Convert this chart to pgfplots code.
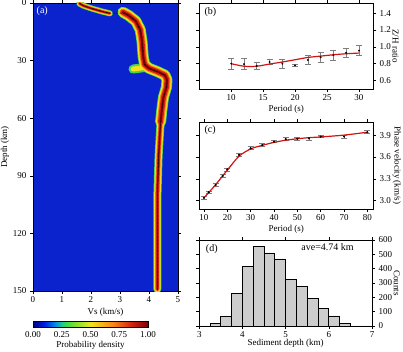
\documentclass[border=0pt]{standalone}
\usepackage{pgfplots}
\pgfplotsset{compat=1.18}
\usepackage{pgfplotstable}
\usepackage{fontspec}
\setmainfont{Liberation Serif}
\definecolor{bgblue}{RGB}{10,35,205}
\definecolor{cgreen}{RGB}{70,215,75}
\definecolor{cyellow}{RGB}{245,225,30}
\definecolor{corange}{RGB}{250,130,20}
\definecolor{cred}{RGB}{215,35,20}
\definecolor{cdred}{RGB}{135,0,0}
\definecolor{barfill}{RGB}{205,205,205}
\definecolor{errgray}{RGB}{125,125,125}
\definecolor{modred}{RGB}{210,20,20}

% Vs profile segments (Vs km/s, depth km)
\pgfplotstableread{
vs d
1.60 0.3
1.75 1.5
2.05 3.0
2.40 4.5
2.65 5.4
}\segA
\pgfplotstableread{
vs d
3.10 4.8
3.30 6.5
3.55 9.5
3.70 14
3.76 20
3.80 28
3.85 32
4.00 34
4.30 35.8
4.55 37.6
4.62 40
4.60 44
4.50 49
4.44 56
4.40 62
}\segB
\pgfplotstableread{
vs d
4.40 62
4.38 67
4.33 80
4.31 90
4.29 100
4.29 149
}\segC
\pgfplotstableread{
vs d
3.45 34.4
3.85 33.6
}\segD
\pgfplotstableread{
vs d
1.60 0
1.75 1.5
2.05 3
2.40 4.5
2.65 5.3
3.10 5.3
3.30 6.5
3.55 9.5
3.70 14
3.76 20
3.80 28
3.85 32
4.00 34
4.30 35.8
4.55 37.6
4.62 40
4.60 44
4.50 49
4.44 56
4.40 62
4.38 67
4.33 80
4.31 90
4.29 100
4.29 150
}\meanprof

% Z/H ratio observed
\pgfplotstableread{
p v e
10 0.80 0.065
12 0.795 0.065
14 0.775 0.037
16 0.82 0.03
18 0.80 0.05
20 0.78 0.015
22 0.843 0.055
24 0.877 0.057
26 0.90 0.058
28 0.93 0.05
30 0.955 0.06
}\zhobs
\pgfplotstableread{
p v
10 0.80
12 0.77
14 0.77
16 0.796
18 0.82
20 0.847
22 0.874
24 0.89
26 0.906
28 0.918
30 0.926
}\zhmod

% Phase velocity
\pgfplotstableread{
p v e
10 3.04 0.02
12 3.115 0.02
15 3.215 0.02
18 3.34 0.02
20 3.43 0.02
25 3.63 0.02
30 3.72 0.02
35 3.765 0.02
40 3.81 0.015
45 3.845 0.02
50 3.85 0.015
55 3.855 0.02
60 3.88 0.015
70 3.88 0.02
80 3.94 0.02
}\pvobs
\pgfplotstableread{
p v
10 3.04
12 3.11
15 3.22
18 3.34
20 3.42
25 3.61
30 3.71
35 3.76
40 3.80
45 3.83
50 3.85
55 3.865
60 3.875
70 3.90
80 3.94
}\pvmod

\pgfplotsset{
  every axis/.append style={
    scale only axis,
    anchor=south west,
    tick align=outside,
    /pgf/number format/assume math mode=true,
    tick style={black, line width=0.5pt},
    axis line style={line width=0.8pt},
    major tick length=3pt,
    xticklabel shift=-1pt,
    every tick label/.append style={font=\fontsize{9}{10}\selectfont},
    label style={font=\fontsize{9}{10}\selectfont},
    every node/.append style={font=\fontsize{9}{10}\selectfont},
  },
  zherr/.style={draw=none, mark=*, mark size=0.7pt, black,
    error bars/.cd, y dir=both, y explicit, error mark=|,
    error bar style={errgray, line width=0.6pt},
    error mark options={errgray, mark size=3pt, line width=0.6pt}},
  rightlab/.style={yticklabel pos=right, ylabel style={rotate=180}, ylabel shift=-5pt,
    xlabel style={yshift=2pt}},
}

\begin{document}
\begin{tikzpicture}
\path[use as bounding box] (0,0) rectangle (403pt,352pt);

% ---------------- (a) ----------------
\begin{axis}[
  at={(33pt,61pt)}, width=145pt, height=288pt,
  xmin=0, xmax=5, ymin=0, ymax=150, y dir=reverse,
  xtick={0,1,2,3,4,5}, ytick={0,30,60,90,120,150},
  xlabel={Vs (km/s)}, ylabel={Depth (km)},
  xlabel style={yshift=1pt},
  ylabel shift=-3pt,
  axis background/.style={fill=bgblue},
  colormap={pd}{rgb255(0)=(0,0,130) rgb255(2)=(0,30,230) rgb255(4)=(0,150,220) rgb255(5)=(30,200,150) rgb255(6)=(70,220,60) rgb255(10)=(240,230,30) rgb255(14)=(250,130,20) rgb255(17)=(210,40,15) rgb255(20)=(125,0,0)},
  colorbar horizontal,
  point meta min=0, point meta max=1,
  colorbar style={
    at={(33pt,39pt)}, anchor=north west,
    scale only axis, width=115pt, height=6pt,
    xtick={0,0.25,0.5,0.75,1},
    xtick style={draw=none},
    major tick length=0pt,
    xticklabel shift=0pt,
    xticklabel style={/pgf/number format/.cd, fixed, fixed zerofill, precision=2},
    xlabel={Probability density},
    xlabel style={yshift=3pt},
    axis line style={line width=0.6pt},
  },
]
% green layer
\addplot[cgreen, line width=6pt, line join=round, line cap=round] table[x=vs,y=d] {\segA};
\addplot[cgreen, line width=11pt, line join=round, line cap=round] table[x=vs,y=d] {\segB};
\addplot[cgreen, line width=8pt, line join=round, line cap=round] table[x=vs,y=d] {\segC};
\addplot[cgreen, line width=9pt, line join=round, line cap=round] table[x=vs,y=d] {\segD};
% yellow layer
\addplot[cyellow, line width=4.6pt, line join=round, line cap=round] table[x=vs,y=d] {\segA};
\addplot[cyellow, line width=9.5pt, line join=round, line cap=round] table[x=vs,y=d] {\segB};
\addplot[cyellow, line width=6.5pt, line join=round, line cap=round] table[x=vs,y=d] {\segC};
\addplot[cyellow, line width=5pt, line join=round, line cap=round] table[x=vs,y=d] {\segD};
% orange layer
\addplot[corange, line width=3.4pt, line join=round, line cap=round] table[x=vs,y=d] {\segA};
\addplot[corange, line width=7pt, line join=round, line cap=round] table[x=vs,y=d] {\segB};
\addplot[corange, line width=4.5pt, line join=round, line cap=round] table[x=vs,y=d] {\segC};
% red layer
\addplot[cred, line width=2.2pt, line join=round, line cap=round] table[x=vs,y=d] {\segA};
\addplot[cred, line width=5pt, line join=round, line cap=round] table[x=vs,y=d] {\segB};
\addplot[cred, line width=3pt, line join=round, line cap=round] table[x=vs,y=d] {\segC};
% dark red layer
\addplot[cdred, line width=1pt, line join=round, line cap=round] table[x=vs,y=d] {\segA};
\addplot[cdred, line width=2.2pt, line join=round, line cap=round] table[x=vs,y=d] {\segB};
\addplot[cdred, line width=1.3pt, line join=round, line cap=round] table[x=vs,y=d] {\segC};
% mean profile
\addplot[black, line width=0.5pt, dash pattern=on 2pt off 1.5pt] table[x=vs,y=d] {\meanprof};
\node[anchor=north west, white, inner sep=0pt] at (axis cs:0.12,2) {(a)};
\end{axis}

% ---------------- (b) ----------------
\begin{axis}[
  at={(199.3pt,263pt)}, width=173.7pt, height=86pt,
  xmin=5, xmax=32.2, ymin=0.5, ymax=1.52,
  xtick={10,15,20,25,30}, ytick={0.6,0.8,1.0,1.2,1.4},
  rightlab,
  yticklabel style={/pgf/number format/.cd, fixed, fixed zerofill, precision=1},
  xlabel={Period (s)}, ylabel={Z/H ratio},
]
\addplot[zherr] table[x=p, y=v, y error=e] {\zhobs};
\addplot[modred, line width=1.2pt, smooth] table[x=p,y=v] {\zhmod};
\node[anchor=north west, inner sep=0pt] at (axis cs:5.8,1.47) {(b)};
\end{axis}

% ---------------- (c) ----------------
\begin{axis}[
  at={(199.3pt,143pt)}, width=173.7pt, height=87pt,
  xmin=8, xmax=82.4, ymin=2.886, ymax=4.08,
  xtick={10,20,30,40,50,60,70,80}, ytick={3.0,3.3,3.6,3.9},
  rightlab,
  yticklabel style={/pgf/number format/.cd, fixed, fixed zerofill, precision=1},
  xlabel={Period (s)}, ylabel={Phase velocity (km/s)},
]
\addplot[zherr] table[x=p, y=v, y error=e] {\pvobs};
\addplot[modred, line width=1.2pt, smooth] table[x=p,y=v] {\pvmod};
\addplot[draw=none, mark=*, mark size=0.7pt, black] table[x=p,y=v] {\pvobs};
\node[anchor=north west, inner sep=0pt] at (axis cs:10.2,4.035) {(c)};
\end{axis}

% ---------------- (d) ----------------
\begin{axis}[
  at={(199.3pt,26pt)}, width=172.7pt, height=86pt,
  xmin=3, xmax=7, ymin=0, ymax=600,
  xtick={3,4,5,6,7}, ytick={0,100,200,300,400,500,600},
  rightlab,
  xlabel style={yshift=3pt},
  xlabel={Sediment depth (km)}, ylabel={Counts},
]
\addplot[ybar interval, fill=barfill, draw=black, line width=0.8pt] coordinates {
  (3.00,0) (3.25,20) (3.50,65) (3.75,224) (4.00,416) (4.25,555) (4.50,510)
  (4.75,468) (5.00,322) (5.25,273) (5.50,193) (5.75,120) (6.00,70) (6.25,20)
  (6.50,0) (7.00,0)};
\node[anchor=north west, inner sep=0pt] at (axis cs:3.15,570) {(d)};
\node at (axis cs:5.97,548) {ave=4.74 km};
\end{axis}
\end{tikzpicture}
\end{document}
